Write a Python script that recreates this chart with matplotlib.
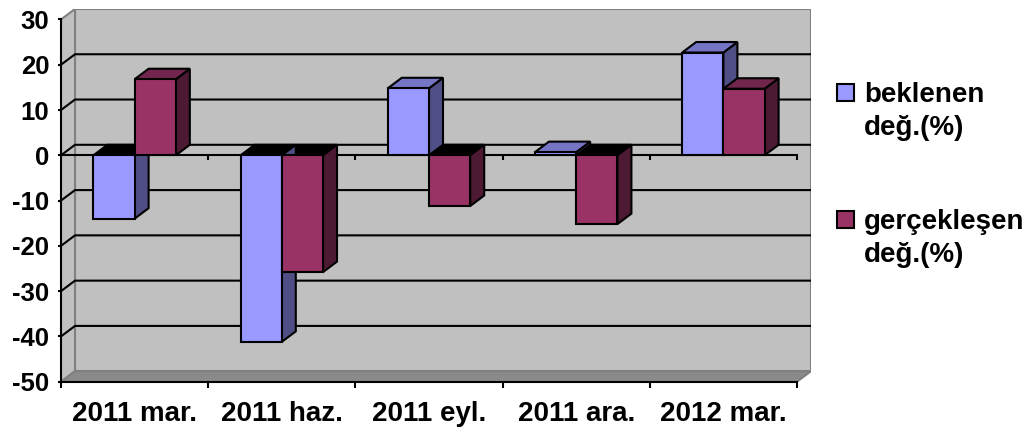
import matplotlib
matplotlib.use("Agg")
from matplotlib import pyplot as plt
from matplotlib.patches import Polygon, Rectangle
import numpy as np

# data
categories = ["2011 mar.", "2011 haz.", "2011 eyl.", "2011 ara.", "2012 mar."]
beklenen = [-14.0, -41.2, 14.8, 0.7, 22.7]
gerceklesen = [16.8, -25.8, -11.2, -15.2, 14.7]
series_names = [["beklenen", "değ.(%)"], ["gerçekleşen", "değ.(%)"]]
y_ticks = [-50, -40, -30, -20, -10, 0, 10, 20, 30]

# front / side / top colours of the old excel palette
front_cols = ["#9999FF", "#993366"]
side_cols = ["#4F4F85", "#4D1A33"]
top_cols = ["#7575C4", "#73264D"]

plt.rcParams["font.family"] = ["Liberation Sans", "DejaVu Sans"]
plt.rcParams["font.weight"] = "bold"
plt.rcParams["axes.unicode_minus"] = False

W, H = 1034, 430
CAT_PX = 147.2      # px per category
UNIT_PX = 4.528     # px per value unit
DEPTH_PX = (14, 10.5)
ymin, ymax = y_ticks[0], y_ticks[-1]
DX = DEPTH_PX[0] / CAT_PX
DY = DEPTH_PX[1] / UNIT_PX
n = len(categories)
x0, x1 = -0.5, n - 0.5

fig = plt.figure(figsize=(W / 100, H / 100), dpi=100)
ax = fig.add_axes([61 / W, (H - 381.7) / H,
                   (n * CAT_PX + DEPTH_PX[0]) / W,
                   ((ymax - ymin) * UNIT_PX + DEPTH_PX[1]) / H])
ax.set_xlim(x0, x1 + DX)
ax.set_ylim(ymin, ymax + DY)
ax.patch.set_visible(False)

LW = 1.5
wall = "#C0C0C0"
border = "#808080"

# back wall, side wall, floor
ax.add_patch(Rectangle((x0 + DX, ymin + DY), x1 - x0, ymax - ymin,
                       facecolor=wall, edgecolor=border, lw=LW, zorder=0))
ax.add_patch(Polygon([(x0, ymin), (x0 + DX, ymin + DY), (x0 + DX, ymax + DY), (x0, ymax)],
                     facecolor=wall, edgecolor=border, lw=LW, zorder=0))
ax.add_patch(Polygon([(x0, ymin), (x1, ymin), (x1 + DX, ymin + DY), (x0 + DX, ymin + DY)],
                     facecolor="#8A8A8A", edgecolor=border, lw=LW, zorder=0.5))

# gridlines on back wall + side wall
for v in y_ticks[1:-1]:
    ax.plot([x0, x0 + DX, x1 + DX], [v, v + DY, v + DY], color="black", lw=LW, zorder=1,
            solid_capstyle="butt")

# category axis at zero (front edge) with ticks
bounds = np.arange(n + 1) - 0.5
ax.plot([x0, x1], [0, 0], color="black", lw=LW, zorder=2)
ax.vlines(bounds[1:], -5 / UNIT_PX, 0, color="black", lw=LW, zorder=2)

# bars
bw = 0.28
bars = []
for i in range(n):
    for s, vals in enumerate([beklenen, gerceklesen]):
        bars.append((i - bw + s * bw, vals[i], s))

z = 4
for left, v, s in bars:
    if v < 0:
        ax.add_patch(Polygon([(left, 0), (left + bw, 0), (left + bw + DX, DY), (left + DX, DY)],
                             facecolor="black", edgecolor="black", lw=LW, zorder=3))
for left, v, s in bars:
    r = left + bw
    ax.add_patch(Polygon([(r, 0), (r + DX, DY), (r + DX, v + DY), (r, v)],
                         facecolor=side_cols[s], edgecolor="black", lw=LW, zorder=z))
    if v >= 0:
        ax.add_patch(Polygon([(left, v), (r, v), (r + DX, v + DY), (left + DX, v + DY)],
                             facecolor=top_cols[s], edgecolor="black", lw=LW, zorder=z + 0.1))
    ax.add_patch(Rectangle((left, min(0, v)), bw, abs(v),
                           facecolor=front_cols[s], edgecolor="black", lw=LW, zorder=z + 0.2))
    z += 1

# axes
for side in ["top", "right"]:
    ax.spines[side].set_visible(False)
ax.spines["left"].set_bounds(ymin, ymax)
ax.spines["bottom"].set_bounds(x0, x1)
for side in ["left", "bottom"]:
    ax.spines[side].set_linewidth(LW)
    ax.spines[side].set_zorder(2)
ax.set_yticks(y_ticks)
ax.set_xticks(bounds)
ax.set_xticklabels([])
ax.set_xticks(range(n), categories, minor=True)
ax.tick_params(axis="y", direction="out", length=2.5, width=LW, pad=6, labelsize=18.5)
ax.tick_params(axis="x", which="major", direction="out", length=4, width=LW)
ax.tick_params(axis="x", which="minor", length=0, pad=14, labelsize=20)

# legend
for s, lines in enumerate(series_names):
    base = 102.5 + s * 126.5
    fig.patches.append(Rectangle((837 / W, 1 - (base - 1.5) / H), 17 / W, 17 / H,
                                 transform=fig.transFigure, facecolor=front_cols[s],
                                 edgecolor="black", lw=1.5))
    for k, line in enumerate(lines):
        fig.text(864 / W, 1 - (base + 32.5 * k) / H, line, ha="left", va="baseline",
                 fontsize=20, fontweight="bold")

fig.savefig("out.png", dpi=100)
